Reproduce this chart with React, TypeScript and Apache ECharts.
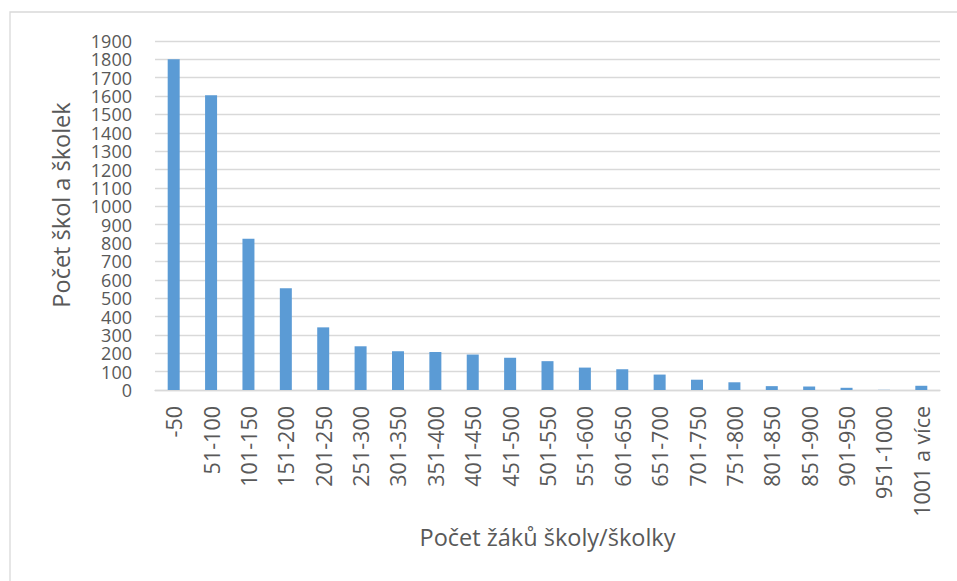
import React, { useEffect, useRef } from "react";
import * as echarts from "echarts";

const categories = [
  "-50", "51-100", "101-150", "151-200", "201-250", "251-300", "301-350",
  "351-400", "401-450", "451-500", "501-550", "551-600", "601-650", "651-700",
  "701-750", "751-800", "801-850", "851-900", "901-950", "951-1000", "1001 a více",
];
const counts = [
  1800, 1605, 824, 554, 341, 238, 211, 207, 193, 175, 157, 122, 113, 84, 56, 42,
  21, 19, 12, 1, 23,
];
const yMin = 0;
const yMax = 1900;
const yStep = 100;
const xTitle = "Počet žáků školy/školky";
const yTitle = "Počet škol a školek";

const FONT = "'Open Sans', 'Liberation Sans', sans-serif";
const TEXT = "#595959";
const GRID = "#d9d9d9";

export default function App() {
  const ref = useRef<HTMLDivElement>(null);
  useEffect(() => {
    if (!ref.current) return;
    const chart = echarts.init(ref.current, undefined, { renderer: "svg" });
    chart.setOption({
      animation: false,
      backgroundColor: "#ffffff",
      textStyle: { fontFamily: FONT },
      grid: { left: 155, right: 17, top: 41, bottom: 191, containLabel: false },
      graphic: [
        {
          type: "rect",
          shape: { x: 10, y: 12, width: 1200, height: 1000 },
          style: { fill: "none", stroke: GRID, lineWidth: 1.3 },
          silent: true,
        },
        {
          type: "text",
          x: 61,
          y: 205,
          rotation: Math.PI / 2,
          style: {
            text: yTitle,
            fontFamily: FONT,
            fontSize: 23.5,
            fill: TEXT,
            align: "center",
            verticalAlign: "middle",
          },
          silent: true,
        },
      ],
      xAxis: {
        type: "category",
        data: categories,
        name: xTitle,
        nameLocation: "middle",
        nameGap: 133,
        nameTextStyle: { fontFamily: FONT, fontSize: 23.5, color: TEXT },
        axisLine: { show: true, lineStyle: { color: GRID, width: 1.3 } },
        axisTick: { show: false },
        axisLabel: {
          rotate: 90,
          interval: 0,
          margin: 16,
          fontFamily: FONT,
          fontSize: 21.5,
          color: TEXT,
        },
      },
      yAxis: {
        type: "value",
        min: yMin,
        max: yMax,
        interval: yStep,
        axisLine: { show: false },
        axisTick: { show: false },
        splitLine: { show: true, lineStyle: { color: GRID, width: 1.3 } },
        axisLabel: {
          margin: 23,
          fontFamily: FONT,
          fontSize: 18,
          lineHeight: 18,
          color: TEXT,
          showMinLabel: true,
          showMaxLabel: true,
          formatter: (v: number) => String(v),
        },
      },
      series: [
        {
          type: "bar",
          data: counts,
          barWidth: 12,
          itemStyle: { color: "#5b9bd5" },
        },
      ],
    });
    return () => chart.dispose();
  }, []);
  return (
    <div
      ref={ref}
      style={{ position: "absolute", left: 0, top: 0, width: 957, height: 581 }}
    />
  );
}
